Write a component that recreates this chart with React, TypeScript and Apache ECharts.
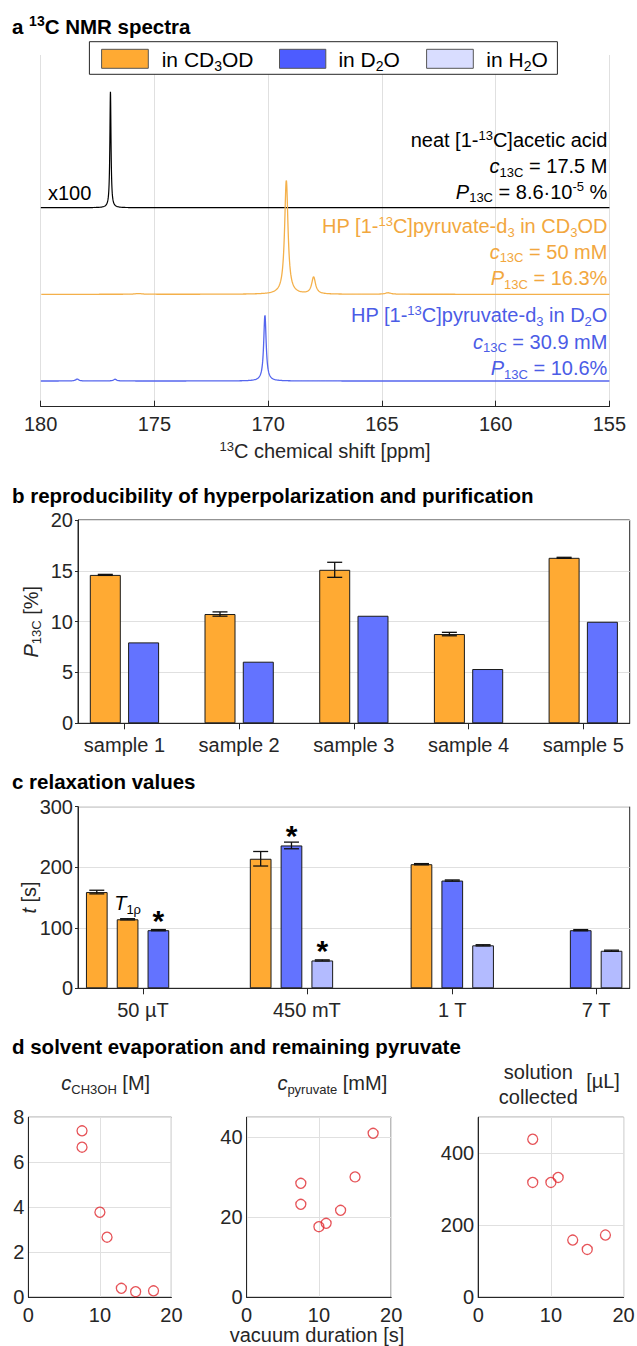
import React, { useEffect, useRef } from "react";
import * as echarts from "echarts";

const W = 637;
const H = 1346;
const FONT = '"Liberation Sans", Arial, Helvetica, sans-serif';
const FS = 20;
const AXIS = "#262626";
const GRIDC = "#E0E0E0";
const ORANGE = "#FFAA33";
const BLUE = "#6373FF";
const LIGHT = "#B3BBFF";
const LEGEND_LIGHT = "#D9DDFF";
const LINE_ORANGE = "#F4B04A";
const LINE_BLUE = "#5566EE";
const TXT_ORANGE = "#F2A73E";
const TXT_BLUE = "#4B5CE6";
const RED = "#E0282E";

// ---------- panel a: 13C NMR spectra (peaks: ppm, height, half width)
const ppmTicks = [155, 160, 165, 170, 175, 180];
const aceticPeaks: number[][] = [[176.93, 116, 0.03]];
const cd3odPeaks: number[][] = [
  [169.2, 114, 0.09],
  [168.0, 17, 0.1],
  [164.73, 1.5, 0.15],
  [175.7, 0.7, 0.2],
];
const d2oPeaks: number[][] = [
  [170.14, 66, 0.065],
  [178.39, 2, 0.08],
  [176.73, 1.8, 0.08],
];
const spectrumBaselines = [199, 112.4, 25.7];
const spectrumTop = 351.7;

// ---------- panel b
const sampleIdx = [1, 2, 3, 4, 5];
const sampleNames = ["sample 1", "sample 2", "sample 3", "sample 4", "sample 5"];
const pCD3OD = [14.6, 10.75, 15.1, 8.78, 16.28];
const pCD3ODErr = [0.05, 0.21, 0.74, 0.17, 0.05];
const pD2O = [7.96, 6.06, 10.58, 5.34, 9.99];

// ---------- panel c
const fields = ["50 µT", "450 mT", "1 T", "7 T"];
const fieldPos = [2.11, 7.43, 12.15, 16.82];
const fieldSlots = [4, 4, 3, 2];
const relField = [0, 0, 0, 1, 1, 1, 2, 2, 2, 3, 3];
const relKind = ["CD3OD", "CD3OD", "D2O", "CD3OD", "D2O", "H2O", "CD3OD", "D2O", "H2O", "D2O", "H2O"];
const relValue = [159, 114, 96, 214, 236, 46, 205, 178, 71, 96, 62];
const relErr = [3, 1, 1, 12, 5.5, 1, 1, 1, 1, 1, 1];
const relNote = ["", "T1rho", "*", "", "*", "*", "", "", "", "", ""];

// ---------- panel d
const vacDur = [7.5, 7.5, 10, 11, 13, 15, 17.5];
const cCH3OH = [7.4, 6.67, 3.78, 2.67, 0.4, 0.25, 0.29];
const cPyruvate = [28.5, 23.25, 17.65, 18.5, 21.75, 30.1, 41];
const volCollected = [439, 319, 319, 333, 159, 133, 173];

const kindColor: Record<string, string> = { CD3OD: ORANGE, D2O: BLUE, H2O: LIGHT };

function spectrum(peaks: number[][], base: number) {
  const pts: number[][] = [];
  for (let k = 0; k <= 5000; k++) {
    const x = 155 + k * 0.005;
    let y = base;
    for (const [p, h, w] of peaks) y += (h * w * w) / ((x - p) * (x - p) + w * w);
    pts.push([x, y]);
  }
  return pts;
}

function rich(color: string, size = FS, weight: string = "normal", subScale = 0.66) {
  const base: any = { color, fill: color, fontSize: size, fontFamily: FONT, fontWeight: weight };
  const small = Math.round(size * subScale);
  return {
    n: { ...base },
    i: { ...base, fontStyle: "italic" },
    sub: { ...base, fontSize: small, padding: [Math.round(size * 0.6), 0, 0, 0] },
    sup: { ...base, fontSize: small, padding: [0, 0, Math.round(size * 0.5), 0] },
  };
}

function txt(text: string, x: number, y: number, color: string, align = "left", size = FS, weight = "normal") {
  return {
    type: "text",
    x,
    y,
    z: 100,
    silent: true,
    style: {
      text,
      fill: color,
      fontSize: size,
      fontFamily: FONT,
      fontWeight: weight,
      align,
      textAlign: align,
      verticalAlign: "middle",
      textVerticalAlign: "middle",
      rich: rich(color, size, weight),
    },
  };
}

const errRender = (dx: number, cap: number) => (params: any, api: any) => {
  const x = api.value(0);
  const lo = api.value(1);
  const hi = api.value(2);
  const pLo = api.coord([x, lo]);
  const pHi = api.coord([x, hi]);
  const cx = pLo[0] + dx;
  const style = { stroke: "#111", lineWidth: 1.3, fill: "none" };
  return {
    type: "group",
    children: [
      { type: "line", shape: { x1: cx, y1: pLo[1], x2: cx, y2: pHi[1] }, style },
      { type: "line", shape: { x1: cx - cap / 2, y1: pLo[1], x2: cx + cap / 2, y2: pLo[1] }, style },
      { type: "line", shape: { x1: cx - cap / 2, y1: pHi[1], x2: cx + cap / 2, y2: pHi[1] }, style },
    ],
  };
};

const axisLine = { show: true, onZero: false, lineStyle: { color: AXIS, width: 1 } };
const lbl = (margin: number, extra: any = {}) => ({ fontSize: FS, color: AXIS, fontFamily: FONT, margin, ...extra });
const split = (show: boolean) => ({ show, lineStyle: { color: GRIDC, width: 1 } });
const boxGrid = (left: number, top: number, width: number, height: number) => ({
  left,
  top,
  width,
  height,
  show: true,
  borderColor: AXIS,
  borderWidth: 1,
  backgroundColor: "transparent",
  containLabel: false,
  outerBoundsMode: "none",
});

function buildOption() {
  // panel c bar positions: bars fill the slots of their field from the left
  const slotCount: number[] = [0, 0, 0, 0];
  const relPos = relField.map((f) => {
    const k = slotCount[f]++;
    return fieldPos[f] + (k - (fieldSlots[f] - 1) / 2);
  });
  const relData = relValue.map((v, i) => ({
    value: [relPos[i], v],
    itemStyle: { color: kindColor[relKind[i]] },
  }));
  const noteIdx = relNote.map((n, i) => (n ? i : -1)).filter((i) => i >= 0);

  const noteRender = (params: any, api: any) => {
    const i = api.value(2);
    const p = api.coord([api.value(0), api.value(1)]);
    if (relNote[i] === "*") {
      return {
        type: "text",
        x: p[0],
        y: p[1] - 10,
        style: { text: "*", fill: "#000", fontSize: 30, fontWeight: "bold", fontFamily: FONT, align: "center", verticalAlign: "middle" },
      };
    }
    return {
      type: "text",
      x: p[0],
      y: p[1] - 16,
      style: {
        text: "{i|T}{sub|1ρ}",
        fill: "#000",
        fontSize: FS,
        fontFamily: FONT,
        align: "center",
        verticalAlign: "middle",
        rich: rich("#000", FS),
      },
    };
  };

  const scatterStyle = {
    type: "scatter",
    symbol: "circle",
    symbolSize: 10,
    itemStyle: { color: "rgba(0,0,0,0)", borderColor: RED, borderWidth: 1.3 },
    silent: true,
  };

  const legendEls = {
    type: "group",
    z: 100,
    children: [
      { type: "rect", z: 100, shape: { x: 89.4, y: 41.7, width: 468, height: 32.6 }, style: { fill: "#fff", stroke: AXIS, lineWidth: 1 } },
      { type: "rect", z: 101, shape: { x: 101.6, y: 49.3, width: 46.7, height: 19 }, style: { fill: ORANGE, stroke: "#555", lineWidth: 1 } },
      { type: "rect", z: 101, shape: { x: 279.5, y: 49.3, width: 46.3, height: 19 }, style: { fill: "#4D5CFF", stroke: "#555", lineWidth: 1 } },
      { type: "rect", z: 101, shape: { x: 426.6, y: 49.3, width: 46.7, height: 19 }, style: { fill: LEGEND_LIGHT, stroke: "#555", lineWidth: 1 } },
      txt("in CD{sub|3}OD", 161.7, 59.3, "#000", "left", 21),
      txt("in D{sub|2}O", 338.4, 59.3, "#000", "left", 21),
      txt("in H{sub|2}O", 486.3, 59.3, "#000", "left", 21),
    ],
  };

  const annX = 607.4;
  const graphics = [
    txt("a {sup|13}C NMR spectra", 12, 26, "#000", "left", 20.5, "bold"),
    txt("b reproducibility of hyperpolarization and purification", 12, 495, "#000", "left", 20.5, "bold"),
    txt("c relaxation values", 12, 781.7, "#000", "left", 20.5, "bold"),
    txt("d solvent evaporation and remaining pyruvate", 12, 1046.7, "#000", "left", 20.5, "bold"),
    legendEls,
    txt("x100", 47.9, 193.3, "#000", "left"),
    txt("neat [1-{sup|13}C]acetic acid", annX, 140, "#000", "right"),
    txt("{i|c}{sub|13C} = 17.5 M", annX, 166, "#000", "right"),
    txt("{i|P}{sub|13C} = 8.6·10{sup|-5} %", annX, 191.7, "#000", "right"),
    txt("HP [1-{sup|13}C]pyruvate-d{sub|3} in CD{sub|3}OD", annX, 226, TXT_ORANGE, "right"),
    txt("{i|c}{sub|13C} = 50 mM", annX, 251.7, TXT_ORANGE, "right"),
    txt("{i|P}{sub|13C} = 16.3%", annX, 278.3, TXT_ORANGE, "right"),
    txt("HP [1-{sup|13}C]pyruvate-d{sub|3} in D{sub|2}O", annX, 315, TXT_BLUE, "right"),
    txt("{i|c}{sub|13C} = 30.9 mM", annX, 341.7, TXT_BLUE, "right"),
    txt("{i|P}{sub|13C} = 10.6%", annX, 368.3, TXT_BLUE, "right"),
    txt("{i|c}{sub|CH3OH} [M]", 105.7, 1083.3, AXIS, "center"),
    txt("{i|c}{sub|pyruvate} [mM]", 332.3, 1083.3, AXIS, "center"),
    txt("solution", 538.3, 1071.7, AXIS, "center"),
    txt("collected", 538.3, 1096.7, AXIS, "center"),
    txt("[µL]", 603, 1081, AXIS, "center"),
    txt("vacuum duration [s]", 317, 1335, AXIS, "center"),
  ];

  return {
    animation: false,
    backgroundColor: "#fff",
    textStyle: { fontFamily: FONT },
    grid: [
      { left: 40.6, top: 55, width: 568.8, height: 351.7, containLabel: false, outerBoundsMode: "none" },
      boxGrid(78, 520, 551.7, 203.3),
      boxGrid(78, 806.7, 551.7, 181.6),
      boxGrid(28.4, 1117.3, 143, 180),
      boxGrid(246.6, 1117.3, 144.6, 180),
      boxGrid(478.2, 1117.3, 145.4, 180),
    ],
    xAxis: [
      {
        gridIndex: 0,
        type: "value",
        min: ppmTicks[0],
        max: ppmTicks[ppmTicks.length - 1],
        interval: 5,
        inverse: true,
        axisLine,
        axisTick: { show: true, inside: true, length: 6, lineStyle: { color: AXIS } },
        axisLabel: lbl(7, { showMinLabel: true, showMaxLabel: true }),
        splitLine: split(true),
        name: "{sup|13}C chemical shift [ppm]",
        nameLocation: "middle",
        nameGap: 33,
        nameMoveOverlap: false,
        nameTextStyle: { fontSize: FS, color: AXIS, fontFamily: FONT, rich: rich(AXIS) },
      },
      {
        gridIndex: 1,
        type: "value",
        min: 0.595,
        max: 5.405,
        axisLine,
        axisTick: { show: true, inside: false, length: 6, customValues: sampleIdx, lineStyle: { color: AXIS } },
        axisLabel: lbl(12, { customValues: sampleIdx, formatter: (v: number) => sampleNames[Math.round(v) - 1] }),
        splitLine: split(false),
      },
      {
        gridIndex: 2,
        type: "value",
        min: 0,
        max: 17.91,
        axisLine,
        axisTick: { show: true, inside: false, length: 6, customValues: fieldPos, lineStyle: { color: AXIS } },
        axisLabel: lbl(12, {
          customValues: fieldPos,
          formatter: (v: number) => {
            let best = 0;
            fieldPos.forEach((p, i) => {
              if (Math.abs(p - v) < Math.abs(fieldPos[best] - v)) best = i;
            });
            return fields[best];
          },
        }),
        splitLine: split(false),
      },
      ...[3, 4, 5].map((g) => ({
        gridIndex: g,
        type: "value",
        min: 0,
        max: 20,
        interval: 10,
        axisLine,
        axisTick: { show: false },
        axisLabel: lbl(8, { showMinLabel: true, showMaxLabel: true }),
        splitLine: split(true),
      })),
    ],
    yAxis: [
      { gridIndex: 0, type: "value", min: 0, max: spectrumTop, show: false },
      {
        gridIndex: 1,
        type: "value",
        min: 0,
        max: 20,
        interval: 5,
        axisLine,
        axisTick: { show: true, inside: false, length: 3, lineStyle: { color: AXIS } },
        axisLabel: lbl(5),
        splitLine: split(true),
        name: "{i|P}{sub|13C} [%]",
        nameLocation: "middle",
        nameRotate: 90,
        nameGap: 35,
        nameMoveOverlap: false,
        nameTextStyle: { fontSize: FS, color: AXIS, fontFamily: FONT, rich: rich(AXIS) },
      },
      {
        gridIndex: 2,
        type: "value",
        min: 0,
        max: 300,
        interval: 100,
        axisLine,
        axisTick: { show: true, inside: false, length: 3, lineStyle: { color: AXIS } },
        axisLabel: lbl(5),
        splitLine: split(true),
        name: "{i|t} [s]",
        nameLocation: "middle",
        nameRotate: 90,
        nameGap: 39.5,
        nameMoveOverlap: false,
        nameTextStyle: { fontSize: FS, color: AXIS, fontFamily: FONT, rich: rich(AXIS) },
      },
      { gridIndex: 3, type: "value", min: 0, max: 8, interval: 2, axisLine, axisTick: { show: false }, axisLabel: lbl(4), splitLine: split(true) },
      { gridIndex: 4, type: "value", min: 0, max: 45, interval: 20, axisLine, axisTick: { show: false }, axisLabel: lbl(4, { showMaxLabel: false }), splitLine: split(true) },
      { gridIndex: 5, type: "value", min: 0, max: 500, interval: 200, axisLine, axisTick: { show: false }, axisLabel: lbl(4, { showMaxLabel: false }), splitLine: split(true) },
    ],
    series: [
      // panel a
      { type: "line", xAxisIndex: 0, yAxisIndex: 0, data: spectrum(aceticPeaks, spectrumBaselines[0]), symbol: "none", showSymbol: false, lineStyle: { color: "#000", width: 1.2 }, silent: true, z: 3 },
      { type: "line", xAxisIndex: 0, yAxisIndex: 0, data: spectrum(cd3odPeaks, spectrumBaselines[1]), symbol: "none", showSymbol: false, lineStyle: { color: LINE_ORANGE, width: 1.3 }, silent: true, z: 3 },
      { type: "line", xAxisIndex: 0, yAxisIndex: 0, data: spectrum(d2oPeaks, spectrumBaselines[2]), symbol: "none", showSymbol: false, lineStyle: { color: LINE_BLUE, width: 1.3 }, silent: true, z: 3 },
      // panel b
      {
        type: "bar",
        xAxisIndex: 1,
        yAxisIndex: 1,
        data: sampleIdx.map((s, i) => [s, pCD3OD[i]]),
        barWidth: 31,
        barGap: "23.5%",
        itemStyle: { color: ORANGE, borderColor: "#1a1a1a", borderWidth: 1 },
        silent: true,
      },
      {
        type: "bar",
        xAxisIndex: 1,
        yAxisIndex: 1,
        data: sampleIdx.map((s, i) => [s, pD2O[i]]),
        barWidth: 31,
        barGap: "23.5%",
        itemStyle: { color: BLUE, borderColor: "#1a1a1a", borderWidth: 1 },
        silent: true,
      },
      {
        type: "custom",
        xAxisIndex: 1,
        yAxisIndex: 1,
        renderItem: errRender(-19.15, 15),
        encode: { x: 0, y: [1, 2] },
        data: sampleIdx.map((s, i) => [s, pCD3OD[i] - pCD3ODErr[i], pCD3OD[i] + pCD3ODErr[i]]),
        z: 5,
        silent: true,
      },
      // panel c
      {
        type: "bar",
        xAxisIndex: 2,
        yAxisIndex: 2,
        data: relData,
        barWidth: 21.7,
        itemStyle: { borderColor: "#1a1a1a", borderWidth: 1 },
        silent: true,
      },
      {
        type: "custom",
        xAxisIndex: 2,
        yAxisIndex: 2,
        renderItem: errRender(0, 15),
        encode: { x: 0, y: [1, 2] },
        data: relValue.map((v, i) => [relPos[i], v - relErr[i], v + relErr[i]]),
        z: 5,
        silent: true,
      },
      {
        type: "custom",
        xAxisIndex: 2,
        yAxisIndex: 2,
        renderItem: noteRender,
        encode: { x: 0, y: 1 },
        data: noteIdx.map((i) => [relPos[i], relValue[i], i]),
        z: 6,
        silent: true,
      },
      // panel d
      { ...scatterStyle, xAxisIndex: 3, yAxisIndex: 3, data: vacDur.map((x, i) => [x, cCH3OH[i]]) },
      { ...scatterStyle, xAxisIndex: 4, yAxisIndex: 4, data: vacDur.map((x, i) => [x, cPyruvate[i]]) },
      { ...scatterStyle, xAxisIndex: 5, yAxisIndex: 5, data: vacDur.map((x, i) => [x, volCollected[i]]) },
    ],
    graphic: { elements: graphics },
  };
}

export default function App() {
  const ref = useRef<HTMLDivElement>(null);
  useEffect(() => {
    document.body.style.margin = "0";
    document.body.style.overflow = "hidden";
    const chart = echarts.init(ref.current!, null, { renderer: "svg", width: W, height: H });
    chart.setOption(buildOption() as any);
    return () => chart.dispose();
  }, []);
  return <div ref={ref} style={{ position: "fixed", left: 0, top: 0, width: W, height: H, background: "#fff" }} />;
}
